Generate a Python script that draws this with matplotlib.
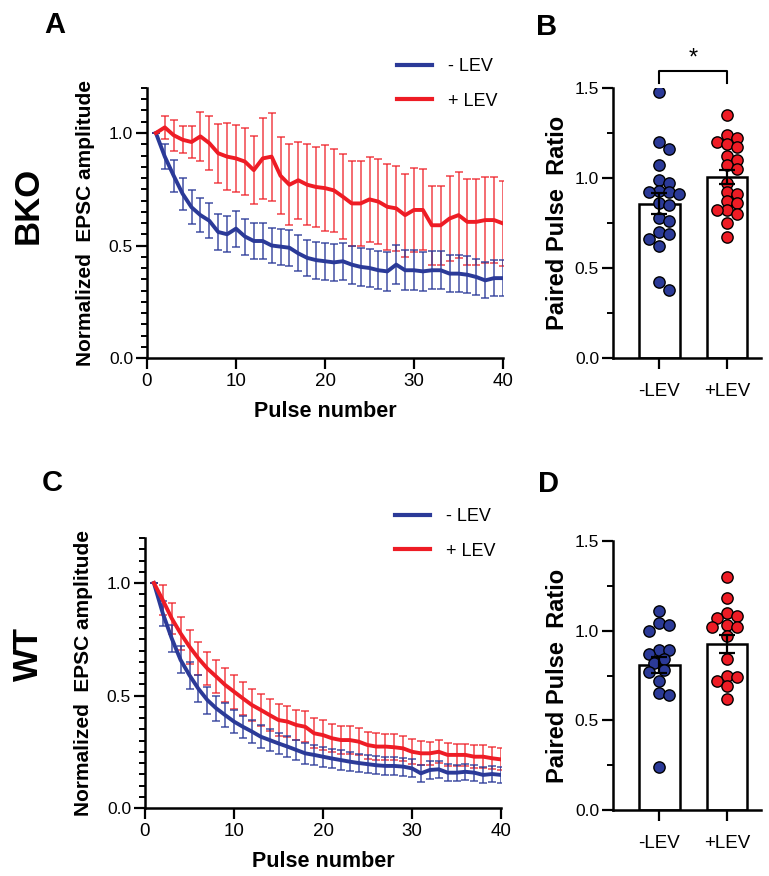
import numpy as np
import matplotlib
matplotlib.use("Agg")
import matplotlib.pyplot as plt
from matplotlib.ticker import MultipleLocator

plt.rcParams['font.family'] = ['Liberation Sans', 'DejaVu Sans']

# ---- données ----
pulses = np.arange(1, 41)

bko_minus = [1.0, 0.895, 0.81, 0.73, 0.67, 0.635, 0.61, 0.56, 0.55, 0.575,
             0.54, 0.52, 0.52, 0.50, 0.495, 0.49, 0.465, 0.445, 0.435, 0.43,
             0.425, 0.43, 0.415, 0.405, 0.40, 0.39, 0.385, 0.415, 0.39, 0.39,
             0.385, 0.39, 0.39, 0.375, 0.375, 0.37, 0.36, 0.345, 0.355, 0.355]
bko_minus_sem = [0.0, 0.057, 0.07, 0.072, 0.075, 0.075, 0.078, 0.078, 0.08, 0.08,
                 0.08, 0.078, 0.078, 0.078, 0.08, 0.08, 0.08, 0.08, 0.082, 0.082,
                 0.083, 0.083, 0.085, 0.085, 0.085, 0.085, 0.087, 0.087, 0.089, 0.088,
                 0.087, 0.085, 0.085, 0.083, 0.083, 0.082, 0.082, 0.08, 0.081, 0.081]
bko_plus = [1.0, 1.025, 0.99, 0.97, 0.96, 0.985, 0.955, 0.91, 0.895, 0.887,
            0.873, 0.835, 0.887, 0.895, 0.81, 0.77, 0.79, 0.77, 0.76, 0.755,
            0.745, 0.717, 0.687, 0.687, 0.705, 0.695, 0.672, 0.665, 0.635, 0.658,
            0.658, 0.59, 0.59, 0.62, 0.635, 0.605, 0.605, 0.613, 0.613, 0.598]
bko_plus_sem = [0.0, 0.05, 0.07, 0.06, 0.07, 0.11, 0.12, 0.13, 0.15, 0.15,
                0.15, 0.15, 0.18, 0.196, 0.17, 0.18, 0.17, 0.18, 0.18, 0.19,
                0.185, 0.19, 0.19, 0.19, 0.19, 0.19, 0.19, 0.19, 0.185, 0.185,
                0.18, 0.175, 0.175, 0.19, 0.19, 0.19, 0.19, 0.19, 0.19, 0.19]

wt_minus = [1.0, 0.865, 0.754, 0.658, 0.59, 0.53, 0.48, 0.443, 0.413, 0.384,
            0.361, 0.34, 0.317, 0.302, 0.287, 0.273, 0.258, 0.243, 0.236, 0.228,
            0.22, 0.213, 0.206, 0.20, 0.195, 0.19, 0.187, 0.187, 0.184, 0.176,
            0.154, 0.169, 0.172, 0.157, 0.157, 0.161, 0.157, 0.147, 0.151, 0.147]
wt_minus_sem = [0.0, 0.055, 0.06, 0.06, 0.06, 0.06, 0.06, 0.055, 0.055, 0.05,
                0.05, 0.05, 0.05, 0.048, 0.048, 0.047, 0.046, 0.046, 0.045, 0.045,
                0.044, 0.043, 0.042, 0.042, 0.041, 0.041, 0.04, 0.04, 0.04, 0.04,
                0.038, 0.038, 0.037, 0.037, 0.036, 0.036, 0.036, 0.035, 0.035, 0.035]
wt_plus = [1.0, 0.924, 0.843, 0.776, 0.717, 0.665, 0.62, 0.584, 0.547, 0.517,
           0.487, 0.458, 0.436, 0.413, 0.391, 0.384, 0.369, 0.361, 0.332, 0.324,
           0.31, 0.302, 0.302, 0.295, 0.28, 0.273, 0.273, 0.27, 0.265, 0.25,
           0.243, 0.243, 0.25, 0.236, 0.236, 0.236, 0.228, 0.228, 0.221, 0.216]
wt_plus_sem = [0.0, 0.065, 0.07, 0.075, 0.075, 0.075, 0.075, 0.075, 0.075, 0.075,
               0.072, 0.072, 0.07, 0.07, 0.07, 0.07, 0.068, 0.068, 0.067, 0.067,
               0.063, 0.062, 0.062, 0.06, 0.06, 0.06, 0.058, 0.058, 0.057, 0.056,
               0.053, 0.052, 0.052, 0.051, 0.05, 0.05, 0.05, 0.05, 0.049, 0.049]

groupes = ['-LEV', '+LEV']

# rapport paired pulse (points individuels)
bko_ppr_minus = [1.48, 1.20, 1.16, 1.07, 0.99, 0.97, 0.93, 0.92, 0.92, 0.91,
                 0.86, 0.85, 0.78, 0.76, 0.70, 0.69, 0.66, 0.62, 0.42, 0.38]
bko_ppr_plus = [1.35, 1.24, 1.22, 1.20, 1.19, 1.17, 1.12, 1.10, 1.07, 1.05,
                0.97, 0.92, 0.91, 0.87, 0.86, 0.82, 0.82, 0.80, 0.75, 0.67]
bko_bar_mean = [0.857, 1.005]
bko_bar_sem = [0.057, 0.04]

wt_ppr_minus = [1.11, 1.04, 1.03, 1.00, 0.89, 0.89, 0.87, 0.84, 0.82, 0.78,
                0.77, 0.72, 0.65, 0.64, 0.24]
wt_ppr_plus = [1.30, 1.18, 1.10, 1.08, 1.07, 1.03, 1.02, 1.02, 0.97, 0.84,
               0.75, 0.74, 0.72, 0.69, 0.62]
wt_bar_mean = [0.808, 0.925]
wt_bar_sem = [0.045, 0.052]

BLEU = '#2b3a98'
ROUGE = '#ee1c25'

W, H = 769, 876
fig = plt.figure(figsize=(W / 100, H / 100), dpi=100)


def axes_px(x0, x1, ytop, ybot):
    return fig.add_axes([x0 / W, 1 - ybot / H, (x1 - x0) / W, (ybot - ytop) / H])


def style_axes(ax):
    for s in ['top', 'right']:
        ax.spines[s].set_visible(False)
    for s in ['left', 'bottom']:
        ax.spines[s].set_linewidth(1.8)
    ax.tick_params(which='major', direction='out', length=8, width=1.6, labelsize=12.5, pad=2)
    ax.tick_params(which='minor', direction='out', length=4.5, width=1.4)


def panel_courbes(ax, moins, moins_sem, plus, plus_sem):
    ax.errorbar(pulses, plus, yerr=plus_sem, fmt='none', ecolor=ROUGE, alpha=0.7,
                elinewidth=1.3, capsize=3.2, capthick=1.3)
    ax.errorbar(pulses, moins, yerr=moins_sem, fmt='none', ecolor=BLEU, alpha=0.75,
                elinewidth=1.3, capsize=3.2, capthick=1.3)
    ax.plot(pulses, moins, color=BLEU, lw=2.8, label='- LEV')
    ax.plot(pulses, plus, color=ROUGE, lw=2.8, label='+ LEV')
    ax.set_xlim(0, 40)
    ax.set_ylim(0, 1.2)
    ax.xaxis.set_major_locator(MultipleLocator(10))
    ax.yaxis.set_major_locator(MultipleLocator(0.5))
    ax.yaxis.set_minor_locator(MultipleLocator(0.05))
    ax.yaxis.set_major_formatter(matplotlib.ticker.FormatStrFormatter('%.1f'))
    style_axes(ax)
    ax.tick_params(axis='x', labelsize=13.5, pad=3)
    ax.set_xlabel('Pulse number', fontsize=15.5, fontweight='bold')
    ax.xaxis.set_label_coords(0.5, -0.16)
    ax.xaxis.label.set_va('top')
    ax.set_ylabel('Normalized  EPSC amplitude', fontsize=15, fontweight='bold')
    ax.yaxis.set_label_coords(-0.145, 0.5)
    leg = ax.legend(loc='upper right', bbox_to_anchor=(1.03, 1.17), frameon=False,
                    fontsize=13, handlelength=1.9, handletextpad=0.9, labelspacing=0.95)
    for l in leg.get_lines():
        l.set_linewidth(3)


def swarm(vals, ppu_x, ppu_y, d=9.0):
    vals = np.asarray(vals, dtype=float)
    offs = np.zeros(len(vals))
    placed = []
    cand = [0, 5, -5, 10, -10, 15, -15, 20, -20]
    for i in np.argsort(-vals):
        yi = vals[i] * ppu_y
        best, best_d = 0, -1
        for c in cand:
            dmin = min([np.hypot(c - px, yi - py) for px, py in placed] + [1e9])
            if dmin >= d:
                best = c
                break
            if dmin > best_d:
                best, best_d = c, dmin
        placed.append((best, yi))
        offs[i] = best / ppu_x
    return offs


def panel_barres(ax, pts_moins, pts_plus, moy, sem, ppu_y):
    xpos = np.arange(len(groupes))
    ax.bar(xpos, moy, width=0.6, color='white', edgecolor='black', linewidth=1.8, zorder=1)
    for k, (pts, col) in enumerate([(pts_moins, BLEU), (pts_plus, ROUGE)]):
        offs = swarm(pts, 68, ppu_y)
        ax.scatter(xpos[k] + offs, pts, s=66, color=col, edgecolor='black',
                   linewidth=1.0, zorder=3)
    ax.errorbar(xpos, moy, yerr=sem, fmt='none', ecolor='black', elinewidth=1.6,
                capsize=6, capthick=1.6, zorder=4)
    ax.set_xlim(-0.68, 1.5)
    ax.set_ylim(0, 1.5)
    ax.set_xticks(xpos)
    ax.set_xticklabels(groupes)
    ax.yaxis.set_major_locator(MultipleLocator(0.5))
    ax.yaxis.set_minor_locator(MultipleLocator(0.25))
    ax.yaxis.set_major_formatter(matplotlib.ticker.FormatStrFormatter('%.1f'))
    style_axes(ax)
    ax.tick_params(axis='x', length=8, pad=10, labelsize=13.5)
    ax.set_ylabel('Paired Pulse  Ratio', fontsize=17, fontweight='bold')
    ax.yaxis.set_label_coords(-0.30, 0.5)


# A
axA = axes_px(147, 503, 88, 358)
panel_courbes(axA, bko_minus, bko_minus_sem, bko_plus, bko_plus_sem)

# B
axB = axes_px(613, 761, 88, 358)
panel_barres(axB, bko_ppr_minus, bko_ppr_plus, bko_bar_mean, bko_bar_sem, 180)
axB.plot([0, 0, 1, 1], [1.528, 1.593, 1.593, 1.528], color='black', lw=1.5, clip_on=False)
axB.text(0.5, 1.6, '*', ha='center', va='bottom', fontsize=17, clip_on=False)

# C
axC = axes_px(145, 501, 538, 808)
panel_courbes(axC, wt_minus, wt_minus_sem, wt_plus, wt_plus_sem)

# D
axD = axes_px(613, 761, 541, 810)
panel_barres(axD, wt_ppr_minus, wt_ppr_plus, wt_bar_mean, wt_bar_sem, 179.5)

# lettres et étiquettes de lignes
for lettre, (x, y) in zip('ABCD', [(55, 25), (547, 27), (52, 483), (548, 484)]):
    fig.text(x / W, 1 - y / H, lettre, fontsize=21, fontweight='bold', ha='center', va='center')
fig.text(28 / W, 1 - 205 / H, 'BKO', fontsize=25, fontweight='bold', rotation=90,
         ha='center', va='center')
fig.text(28 / W, 1 - 654 / H, 'WT', fontsize=25, fontweight='bold', rotation=90,
         ha='center', va='center')

fig.savefig('out.png', dpi=100)
